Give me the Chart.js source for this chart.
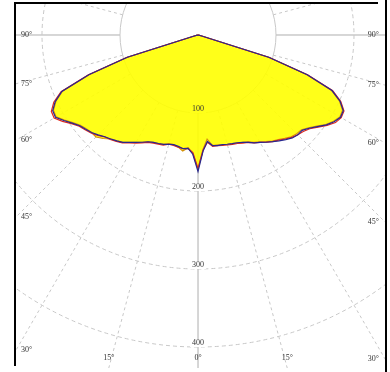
<!DOCTYPE html>
<html><head><meta charset="utf-8">
<script src="https://cdn.jsdelivr.net/npm/chart.js@4"></script>
<style>html,body{margin:0;padding:0;background:#fff}canvas{display:block}</style>
</head><body>
<canvas id="c" width="390" height="372"></canvas>
<script>
// Polar angles (degrees from nadir; negative = left half)
const gammaDeg = [-90,-87.5,-85,-82.5,-80,-77.5,-75,-72.5,-70,-67.5,-65,-62.5,-60,-57.5,-55,-52.5,-50,-47.5,-45,-42.5,-40,-37.5,-35,-32.5,-30,-27.5,-25,-22.5,-20,-17.5,-15,-12.5,-10,-7.5,-5,-2.5,0,2.5,5,7.5,10,12.5,15,17.5,20,22.5,25,27.5,30,32.5,35,37.5,40,42.5,45,47.5,50,52.5,55,57.5,60,62.5,65,67.5,70,72.5,75,77.5,80,82.5,85,87.5,90];
// Luminous intensity (cd/klm)
const intensityYellow = [0,0,0,0,0,1,5,95,148,188,201,209,210,203,196,190,187,185,185,180,174,171,168,163,159,155,151,149,148,147,144,144,146,150,145,152,172,147,134,143,143,144,145,146,147,149,151,155,158,162,166,169,173,177,179,180,185,192,200,206,210,209,200,185,148,95,5,1,0,0,0,0,0];
const intensityRed = [0,0,0,0,0,1,5,96,150,190,204,212,213,206,198,192,189,186,182,177,175,172,169,164,160,156,152,150,149,148,145,145,146,147,146,151,171,148,138,144,144,145,146,147,148,150,152,156,159,163,167,170,174,178,181,183,187,194,202,209,212,211,202,187,150,96,5,1,0,0,0,0,0];
const intensityBlue = [0,0,0,0,0,1,5,95,149,189,202,210,211,204,197,191,188,185,181,177,174,171,168,163,159,155,151,149,148,147,145,144,145,147,146,153,175,149,137,143,144,144,145,146,147,149,152,156,159,163,167,171,175,179,181,181,186,193,201,207,211,210,201,186,149,95,5,1,0,0,0,0,0];
// Grid
const ringValues = [100,200,300,400];
const ringLabels = ['100','200','300','400'];
const angleTicks = [0,15,30,45,60,75,90];
const angleTickLabels = ['0°','15°','30°','45°','60°','75°','90°'];

function toXY(series){
  return gammaDeg.map((g,i)=>({x: series[i]*Math.sin(g*Math.PI/180), y: -series[i]*Math.cos(g*Math.PI/180)}));
}

const FONT = '8px "Liberation Serif", "DejaVu Serif", serif';

const polarGrid = {
  id:'polarGrid',
  beforeDatasetsDraw(chart){
    const {ctx, chartArea:a, scales:{x,y}} = chart;
    const cx = x.getPixelForValue(0), cy = y.getPixelForValue(0);
    const k = (x.getPixelForValue(100)-cx)/100;
    ctx.save();
    ctx.beginPath(); ctx.rect(a.left,a.top,a.right-a.left,a.bottom-a.top); ctx.clip();
    ctx.lineWidth = 1; ctx.strokeStyle = '#c8c8c8';
    ctx.setLineDash([4,3]);
    ringValues.forEach(v=>{ ctx.beginPath(); ctx.setLineDash(v===ringValues[0]?[]:[4,3]); ctx.arc(cx,cy,v*k,0,Math.PI*2); ctx.stroke(); });
    const rays = [];
    angleTicks.forEach(t=>{ rays.push(t,-t,180-t,-(180-t)); });
    const r0 = ringValues[0]*k;
    rays.forEach(g=>{
      const rad = g*Math.PI/180;
      ctx.setLineDash((Math.abs(g)%90===0)?[]:[3,3]);
      ctx.beginPath(); ctx.moveTo(cx+Math.sin(rad)*r0, cy+Math.cos(rad)*r0);
      ctx.lineTo(cx+Math.sin(rad)*1000, cy+Math.cos(rad)*1000); ctx.stroke();
    });
    ctx.setLineDash([]);
    // ring label backgrounds
    ctx.font = FONT;
    ringValues.forEach((v,i)=>{
      const w = ctx.measureText(ringLabels[i]).width + 4;
      ctx.fillStyle = '#fff';
      ctx.fillRect(cx-w/2, cy+v*k-8, w, 8);
    });
    // angle labels near the frame
    ctx.fillStyle = '#333';
    ctx.textBaseline = 'middle';
    angleTicks.forEach((t,i)=>{
      [-1,1].forEach(side=>{
        if (t===0 && side<0) return;
        const rad = t*Math.PI/180;
        const dx = Math.sin(rad)*side, dy = Math.cos(rad);
        const edgeX = side<0 ? a.left : a.right;
        let tx = dx!==0 ? (edgeX-cx)/dx : Infinity;
        let tb = dy>1e-9 ? (a.bottom-cy)/dy : Infinity;
        if (tx < tb) {
          const py = cy + dy*tx;
          ctx.textAlign = side<0 ? 'left' : 'right';
          ctx.fillText(angleTickLabels[i], side<0 ? a.left+5 : a.right-6, py);
        } else {
          const px = cx + dx*tb;
          ctx.textAlign = 'center';
          ctx.fillText(angleTickLabels[i], px, a.bottom-10);
        }
      });
    });
    ctx.restore();
  },
  afterDatasetsDraw(chart){
    const {ctx, chartArea:a, scales:{x,y}} = chart;
    const cx = x.getPixelForValue(0), cy = y.getPixelForValue(0);
    const k = (x.getPixelForValue(100)-cx)/100;
    ctx.save();
    ctx.font = FONT; ctx.fillStyle = '#333';
    ctx.textAlign = 'center'; ctx.textBaseline = 'middle';
    ringValues.forEach((v,i)=>{ ctx.fillText(ringLabels[i], cx, cy+v*k-4); });
    ctx.strokeStyle = '#000'; ctx.lineWidth = 2;
    ctx.beginPath();
    ctx.moveTo(a.left-1, a.bottom-2); ctx.lineTo(a.left-1, a.top-1); ctx.lineTo(a.right-7, a.top-1);
    ctx.moveTo(a.right+1, 0); ctx.lineTo(a.right+1, chart.height);
    ctx.stroke();
    ctx.restore();
  }
};

new Chart(document.getElementById('c'), {
  type:'scatter',
  data:{datasets:[
    {label:'C90-C270', data: toXY(intensityBlue), showLine:true, borderColor:'#28288e', borderWidth:1.2, pointRadius:0, tension:0, fill:false},
    {label:'C0-C180', data: toXY(intensityRed), showLine:true, borderColor:'#e02a1e', borderWidth:1.2, pointRadius:0, tension:0, fill:false},
    {label:'Mean', data: toXY(intensityYellow), showLine:true, borderColor:'#d4920a', backgroundColor:'rgba(255,255,0,0.9)', borderWidth:1.2, pointRadius:0, tension:0, fill:'shape'}
  ]},
  options:{
    responsive:false, animation:false, events:[],
    layout:{padding:{left:16,right:5,top:4,bottom:4}},
    scales:{
      x:{type:'linear', min:-233.33, max:239.74, display:false},
      y:{type:'linear', min:-426.92, max:39.74, display:false}
    },
    plugins:{legend:{display:false}, tooltip:{enabled:false}}
  },
  plugins:[polarGrid]
});
</script>
</body></html>
